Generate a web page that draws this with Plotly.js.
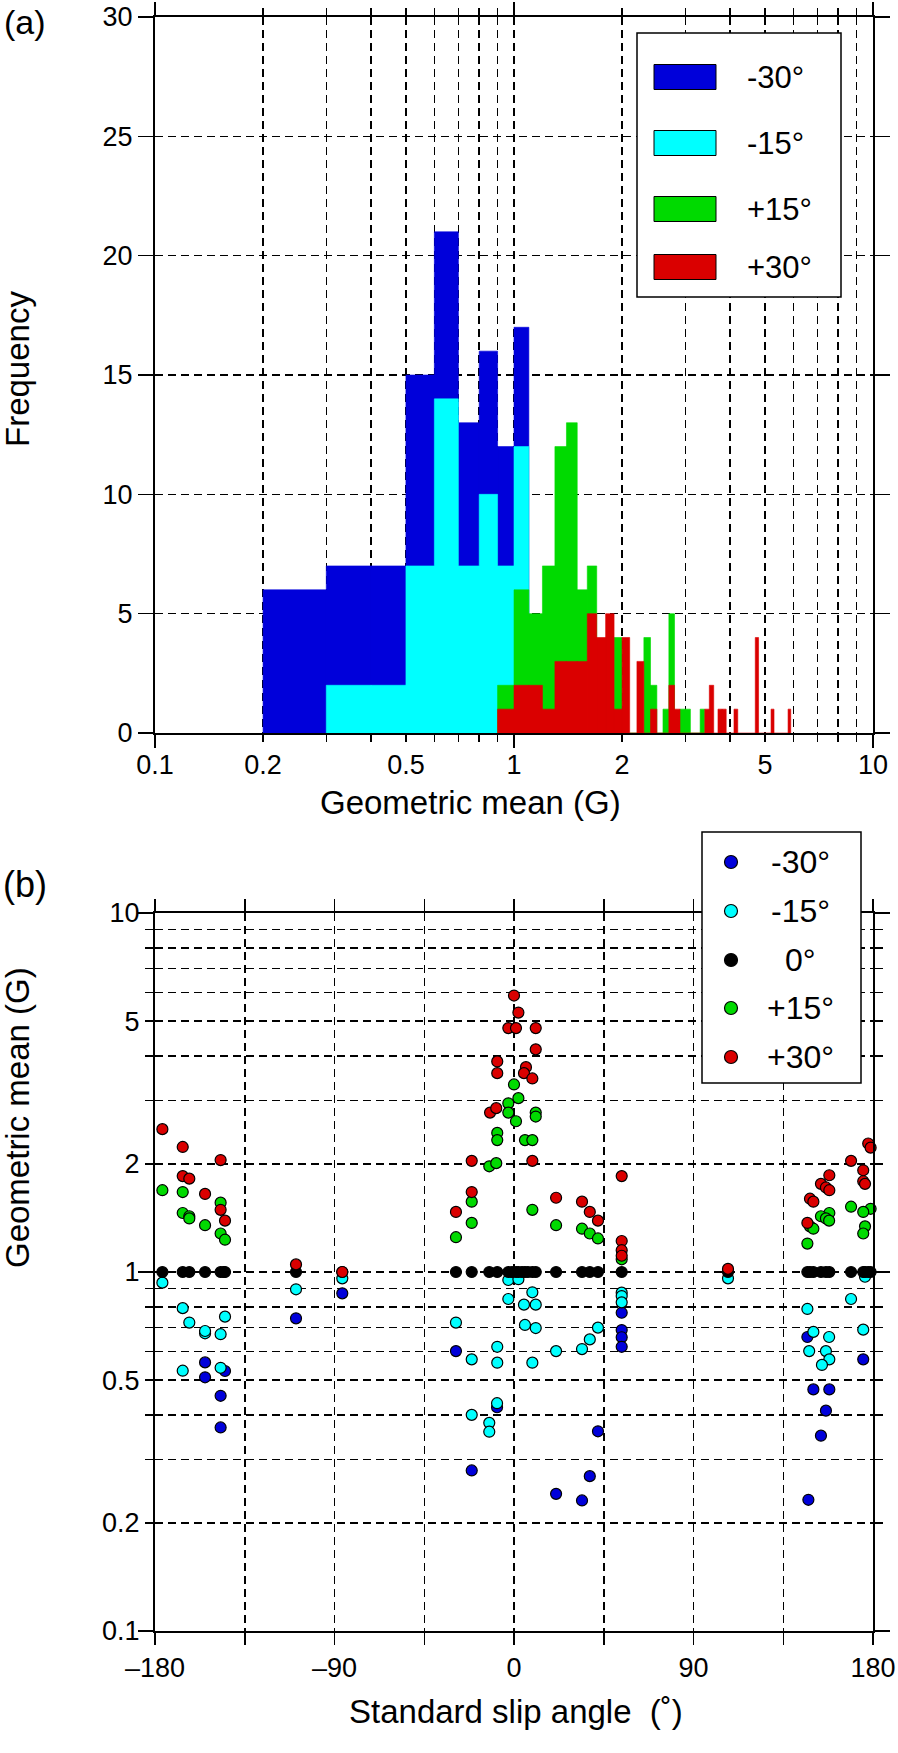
<!DOCTYPE html>
<html>
<head>
<meta charset="utf-8">
<script src="https://cdn.plot.ly/plotly-3.0.1.min.js"></script>
<style>html,body{margin:0;padding:0;background:#fff}</style>
</head>
<body>
<div id="chart" style="width:898px;height:1753px"></div>
<script>
// ---------- (a) histogram data: bin left edges (G), bin width 0.1 G ----------
const binWidth = 0.1;
const blueBins   = [0.2,0.3,0.4,0.5,0.6,0.7,0.8,0.9,1.0];
const blueCounts = [6,7,7,15,21,13,16,12,17];
const cyanBins   = [0.3,0.4,0.5,0.6,0.7,0.8,0.9,1.0];
const cyanCounts = [2,2,7,14,7,10,7,12];
const greenBins   = [0.9,1.0,1.1,1.2,1.3,1.4,1.5,1.6,1.9,2.3,2.4,2.6,2.7,2.9,3.0,3.3];
const greenCounts = [2,6,5,7,12,13,6,7,4,4,2,1,5,1,1,1];
const redBins   = [0.9,1.0,1.1,1.2,1.3,1.4,1.5,1.6,1.7,1.8,1.9,2.0,2.2,2.4,2.7,2.8,3.4,3.5,3.7,3.8,4.1,4.7,5.2,5.8];
const redCounts = [1,2,2,1,3,3,3,5,4,5,1,4,3,1,2,1,1,2,1,1,1,4,1,1];

// ---------- (b) scatter data: standard slip angle (deg) and geometric mean (G) ----------
const m30Angle = [-154.9,-154.9,-144.9,-147.1,-147.1,-109.3,-86.1,-29.1,-8.5,-21.2,42.1,38.0,21.1,34.1,54.0,54.0,54.0,54.0,147.1,175.1,150.1,158.1,156.4,153.9,147.6];
const m30Value = [0.560,0.509,0.530,0.452,0.369,0.743,0.872,0.602,0.42,0.280,0.360,0.270,0.241,0.231,0.770,0.689,0.658,0.619,0.659,0.571,0.471,0.471,0.411,0.350,0.232];

const m15Angle = [-176.3,-166.1,-162.8,-154.9,-154.9,-147.1,-144.9,-166.1,-147.1,-109.3,-86.1,
  -2.85,2.2,9.2,-2.85,5.0,10.9,-29.1,5.5,10.9,-8.4,-21.2,-8.4,9.2,21.1,34.1,38.0,42.1,54.0,54.0,54.0,-8.5,-21.2,-12.4,-12.4,107.3,
  176.0,169.0,147.1,175.1,150.1,158.0,148.0,156.4,158.1,154.4];
const m15Value = [0.934,0.793,0.723,0.675,0.685,0.671,0.751,0.531,0.541,0.895,0.960,
  0.95,0.955,0.878,0.841,0.811,0.811,0.723,0.712,0.698,0.619,0.571,0.559,0.559,0.602,0.610,0.649,0.700,0.876,0.857,0.823,0.431,0.400,0.380,0.359,0.96,
  0.97,0.841,0.789,0.691,0.681,0.659,0.602,0.602,0.571,0.551];

const zeroAngle = [-176.3,-166.1,-162.8,-154.9,-147.1,-145.5,-144.9,-109.3,-86.1,
  -29.1,-21.2,-12.4,-8.4,-2.85,-1.0,1.0,2.2,4.0,5.5,7.0,9.2,10.9,21.1,34.1,38.0,42.1,54.0,107.3,
  147.1,148.4,150.1,153.9,156.4,158.1,169.0,175.1,176.0,177.6,178.8];
const zeroValue = [1,1,1,1,1,1,1,1,1,
  1,1,1,1,1,1,1,1,1,1,1,1,1,1,1,1,1,1,1,
  1,1,1,1,1,1,1,1,1,1,1];

const p15Angle = [-176.3,-166.1,-166.1,-162.8,-162.8,-154.9,-147.1,-147.1,-144.9,
  -29.1,-21.2,-21.2,9.2,21.1,34.1,38.0,42.1,54.0,-12.4,-8.9,-8.4,-8.4,5.5,9.2,0.0,2.2,-2.85,-2.85,1.0,10.9,10.9,
  169.0,178.8,175.1,158.1,153.9,156.4,158.0,148.4,150.1,176.0,175.1,147.1];
const p15Value = [1.69,1.67,1.46,1.43,1.41,1.35,1.56,1.28,1.23,
  1.25,1.57,1.37,1.49,1.35,1.32,1.28,1.24,1.085,1.97,2.01,2.44,2.33,2.33,2.33,3.33,3.05,2.95,2.78,2.63,2.78,2.71,
  1.52,1.50,1.47,1.46,1.43,1.41,1.39,1.34,1.32,1.34,1.28,1.20];

const p30Angle = [-176.3,-166.1,-147.1,-166.1,-162.8,-154.9,-147.1,-144.9,-109.3,-86.1,
  0.0,2.2,-2.85,1.0,10.9,10.9,-8.4,-8.4,6.0,5.0,9.2,-12.0,-8.9,-21.2,9.2,54.0,-21.2,-29.1,21.1,34.1,38.0,42.1,54.0,54.0,54.0,107.3,
  177.6,178.8,169.0,175.1,158.1,153.9,156.4,158.1,175.1,176.0,148.4,150.1,147.1];
const p30Value = [2.50,2.23,2.05,1.85,1.82,1.65,1.49,1.39,1.05,1.00,
  5.89,5.28,4.78,4.78,4.78,4.17,3.86,3.58,3.72,3.58,3.46,2.78,2.86,2.04,2.04,1.85,1.67,1.47,1.61,1.57,1.47,1.39,1.22,1.15,1.11,1.02,
  2.28,2.22,2.04,1.92,1.86,1.76,1.72,1.69,1.79,1.76,1.60,1.57,1.37];

const seriesNames = ['-30°','-15°','0°','+15°','+30°'];
const colBlue = 'rgb(0,0,218)', colCyan = 'rgb(0,255,255)', colBlack = 'rgb(0,0,0)',
      colGreen = 'rgb(0,218,0)', colRed = 'rgb(218,0,0)';

const xTickVals = [0.1,0.2,0.5,1,2,5,10];
const xTickText = ['0.1','0.2','0.5','1','2','5','10'];
const xMinorVals = [0.3,0.4,0.6,0.7,0.8,0.9,3,4,6,7,8,9];
const yLinVals = [0,5,10,15,20,25,30];
const yLogVals = [0.1,0.2,0.3,0.4,0.5,0.6,0.7,0.8,0.9,1,2,3,4,5,6,7,8,9,10];
const yLogText = ['0.1','0.2','','','0.5','','','','','1','2','','','5','','','','','10'];
const angleVals = [-180,-135,-90,-45,0,45,90,135,180];
const angleText = ['\u2013180','','\u201390','','0','','90','','180'];

// ---------- layout geometry (pixels) ----------
const W = 898, H = 1753, ML = 155, MR = 25, MT = 17, MB = 122;
const PW = W - ML - MR, PH = H - MT - MB;
const px = v => (v - ML) / PW;
const py = v => (H - MB - v) / PH;

function stepPoly(bins, counts) {
  const x = [], y = [];
  bins.forEach((lo, i) => {
    const hi = Math.round((lo + binWidth) * 1000) / 1000;
    x.push(lo, lo, hi, hi);
    y.push(0, counts[i], counts[i], 0);
  });
  return {x, y};
}
function histTrace(bins, counts, color, name) {
  const p = stepPoly(bins, counts);
  return {type:'scatter', mode:'lines', x:p.x, y:p.y, fill:'toself', fillcolor:color,
    line:{color:color, width:0.6}, name:name, xaxis:'x', yaxis:'y', showlegend:false, hoverinfo:'skip'};
}
function dotTrace(xs, ys, color, name) {
  return {type:'scatter', mode:'markers', x:xs, y:ys, name:name, xaxis:'x2', yaxis:'y2',
    marker:{color:color, size:11, line:{color:'#000', width:1.2}}, showlegend:false, cliponaxis:false, hoverinfo:'skip'};
}

const data = [
  histTrace(blueBins, blueCounts, colBlue, seriesNames[0]),
  histTrace(cyanBins, cyanCounts, colCyan, seriesNames[1]),
  histTrace(greenBins, greenCounts, colGreen, seriesNames[3]),
  histTrace(redBins, redCounts, colRed, seriesNames[4]),
  dotTrace(m30Angle, m30Value, colBlue, seriesNames[0]),
  dotTrace(m15Angle, m15Value, colCyan, seriesNames[1]),
  dotTrace(zeroAngle, zeroValue, colBlack, seriesNames[2]),
  dotTrace(p15Angle, p15Value, colGreen, seriesNames[3]),
  dotTrace(p30Angle, p30Value, colRed, seriesNames[4]),
  {type:'scatter', mode:'markers', x:[], y:[], xaxis:'x3', yaxis:'y', showlegend:false, hoverinfo:'skip'},
  {type:'scatter', mode:'markers', x:[], y:[], xaxis:'x2', yaxis:'y3', showlegend:false, hoverinfo:'skip'}
];

const FONT = 'Liberation Sans, Arial, Helvetica, sans-serif';
const tickFont = {family:FONT, size:27, color:'#000'};
const gridDash = '8px,5px';
const GW = 1.5;
const topDom = [py(733), 1];
const botDom = [0, py(913)];

const layout = {
  width: W, height: H,
  margin: {l:ML, r:MR, t:MT, b:MB, pad:0},
  paper_bgcolor:'#fff', plot_bgcolor:'#fff',
  font: {family:FONT, color:'#000'},
  showlegend: false,
  xaxis: {type:'log', range:[-1,1], anchor:'y', domain:[0,1],
    tickmode:'array', tickvals:xTickVals, ticktext:xTickText, ticks:'outside', ticklen:7, tickwidth:1.5, tickcolor:'#000',
    showline:true, linewidth:2, linecolor:'#000', mirror:'ticks', ticklabeloverflow:'allow',
    showgrid:true, gridcolor:'#000', gridwidth:GW, griddash:gridDash, zeroline:false,
    minor:{tickmode:'array', tickvals:xMinorVals, ticks:'outside', ticklen:7, tickwidth:1.5, tickcolor:'#000',
      showgrid:true, gridcolor:'#000', gridwidth:GW, griddash:gridDash},
    tickfont:tickFont, fixedrange:true},
  xaxis3: {type:'log', range:[-1,1], overlaying:'x', anchor:'y', side:'bottom',
    tickmode:'array', tickvals:[0.1,1,10], ticks:'outside', ticklen:13, tickwidth:1.5, tickcolor:'#000',
    showticklabels:false, showline:true, linewidth:2, linecolor:'#000', mirror:'ticks', showgrid:false, zeroline:false},
  yaxis: {domain:topDom, anchor:'x', range:[0,30], tickmode:'array', tickvals:yLinVals,
    ticks:'outside', ticklen:15, tickwidth:1.5, tickcolor:'#000',
    showline:true, linewidth:2, linecolor:'#000', mirror:'ticks', ticklabeloverflow:'allow',
    showgrid:true, gridcolor:'#000', gridwidth:GW, griddash:gridDash, zeroline:false,
    tickfont:tickFont, fixedrange:true},
  xaxis2: {range:[-180,180], anchor:'y2', domain:[0,1], tickmode:'array', tickvals:angleVals, ticktext:angleText,
    ticks:'outside', ticklen:12, tickwidth:1.5, tickcolor:'#000',
    showline:true, linewidth:2, linecolor:'#000', mirror:'ticks', ticklabeloverflow:'allow',
    showgrid:true, gridcolor:'#000', gridwidth:GW, griddash:gridDash, zeroline:false,
    tickfont:tickFont, fixedrange:true},
  yaxis2: {type:'log', range:[-1,1], domain:botDom, anchor:'x2', tickmode:'array', tickvals:yLogVals, ticktext:yLogText,
    ticks:'outside', ticklen:8, tickwidth:1.5, tickcolor:'#000',
    showline:true, linewidth:2, linecolor:'#000', mirror:'ticks', ticklabeloverflow:'allow',
    showgrid:true, gridcolor:'#000', gridwidth:GW, griddash:gridDash, zeroline:false,
    tickfont:tickFont, fixedrange:true},
  yaxis3: {type:'log', range:[-1,1], overlaying:'y2', anchor:'x2', side:'left',
    tickmode:'array', tickvals:[0.1,1,10], ticks:'outside', ticklen:15, tickwidth:1.5, tickcolor:'#000',
    showticklabels:false, showline:true, linewidth:2, linecolor:'#000', mirror:'ticks', showgrid:false, zeroline:false},
  shapes: [],
  annotations: []
};

const ann = (x, y, text, size, opts) => Object.assign({xref:'paper', yref:'paper', x:px(x), y:py(y), text:text,
  showarrow:false, font:{family:FONT, size:size, color:'#000'}, xanchor:'center', yanchor:'middle'}, opts || {});

// panel labels and axis titles
layout.annotations.push(ann(25, 22, '(a)', 34));
layout.annotations.push(ann(25, 884, '(b)', 36));
layout.annotations.push(ann(17, 369, 'Frequency', 33, {textangle:-90}));
layout.annotations.push(ann(470, 802, 'Geometric mean (G)', 33));
layout.annotations.push(ann(17, 1118, 'Geometric mean (G)', 33, {textangle:-90}));
layout.annotations.push(ann(516, 1711, 'Standard slip angle\u00a0\u00a0(\u02da)', 33));

// legend (a): box, swatches and labels
layout.shapes.push({type:'rect', xref:'paper', yref:'paper', x0:px(637), x1:px(841), y0:py(297), y1:py(33),
  line:{color:'#000', width:1.5}, fillcolor:'#fff', layer:'above'});
const legA = [[colBlue, seriesNames[0], 77], [colCyan, seriesNames[1], 143], [colGreen, seriesNames[3], 209], [colRed, seriesNames[4], 267]];
legA.forEach(([c, t, yc]) => {
  layout.shapes.push({type:'rect', xref:'paper', yref:'paper', x0:px(654), x1:px(716), y0:py(yc + 12.5), y1:py(yc - 12.5),
    line:{color:'#000', width:1}, fillcolor:c, layer:'above'});
  layout.annotations.push(ann(745, yc, t, 31, {xanchor:'left'}));
});

// legend (b)
layout.shapes.push({type:'rect', xref:'paper', yref:'paper', x0:px(702), x1:px(861), y0:py(1083), y1:py(832),
  line:{color:'#000', width:1.5}, fillcolor:'#fff', layer:'above'});
const legB = [[colBlue, seriesNames[0], 862], [colCyan, seriesNames[1], 911], [colBlack, seriesNames[2], 960], [colGreen, seriesNames[3], 1008], [colRed, seriesNames[4], 1057]];
legB.forEach(([c, t, yc]) => {
  layout.shapes.push({type:'circle', xref:'paper', yref:'paper', xsizemode:'pixel', ysizemode:'pixel',
    xanchor:px(731), yanchor:py(yc), x0:-6.5, x1:6.5, y0:-6.5, y1:6.5,
    line:{color:'#000', width:1.2}, fillcolor:c, layer:'above'});
  layout.annotations.push(ann(800, yc, t, 32));
});

Plotly.newPlot('chart', data, layout, {staticPlot:true, displayModeBar:false});
</script>
</body>
</html>
